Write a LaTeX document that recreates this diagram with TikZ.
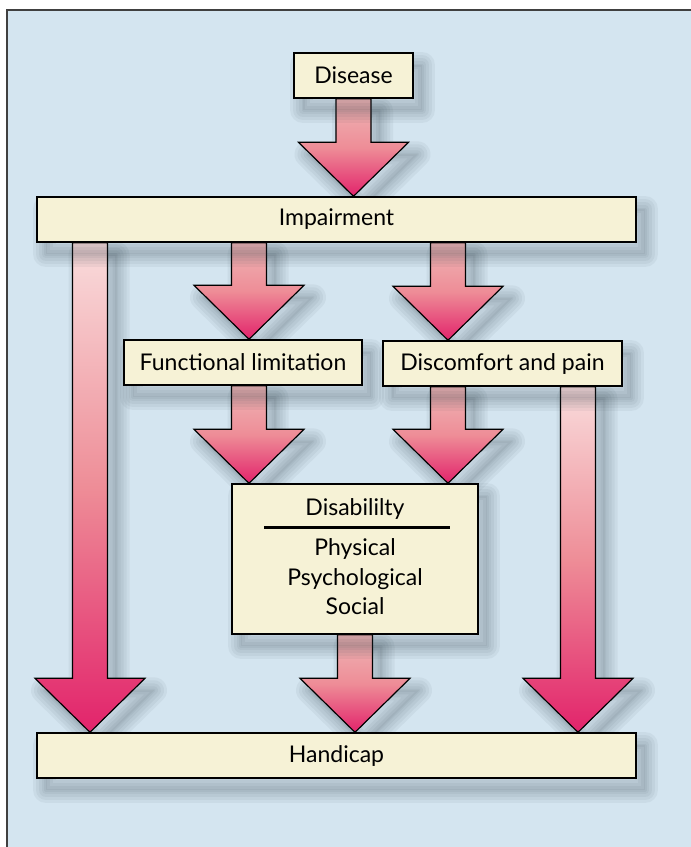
\documentclass[tikz,border=0pt]{standalone}
\usepackage{fontspec}
\setmainfont{Lato}
\usetikzlibrary{calc}

\definecolor{paneblue}{HTML}{D4E5F0}
\definecolor{boxcream}{HTML}{F6F2D6}
\definecolor{pinklight}{HTML}{F9DCDC}
\definecolor{pinksoft}{HTML}{EFB6B6}
\definecolor{pinkmid}{HTML}{EE8D97}
\definecolor{arrowred}{HTML}{E2236B}
\definecolor{shadowgray}{HTML}{2A3A44}

\pgfdeclarelayer{back}
\pgfdeclarelayer{arrows}
\pgfsetlayers{back,arrows,main}

% block arrow: style, top of shaft, tip
\newcommand{\blockarrow}[3]{%
  \draw[#1] let \p1 = (#2), \p2 = (#3) in
    (\x2-8.75bp,\y1) -- (\x2-8.75bp,\y2+27bp) -- (\x2-27.5bp,\y2+27bp) -- (\x2,\y2)
    -- (\x2+27.5bp,\y2+27bp) -- (\x2+8.75bp,\y2+27bp) -- (\x2+8.75bp,\y1) -- cycle;}

\begin{document}
\begin{tikzpicture}[x=0.5bp, y=-0.5bp,
    shadowstep/.style={preaction={draw=shadowgray, line width=#1, line join=round,
        opacity=0.055, transform canvas={shift={(4.5bp,-6bp)}}}},
    softshadow/.style={
      preaction={fill=shadowgray, opacity=0.06, transform canvas={shift={(4.5bp,-6bp)}}},
      shadowstep=13bp, shadowstep=10bp, shadowstep=7bp, shadowstep=4bp, shadowstep=1.5bp},
    box/.style={softshadow, draw, line width=0.7pt, fill=boxcream, inner sep=0pt,
      minimum height=22.5bp, font=\fontsize{11.5bp}{13bp}\selectfont},
    label/.style={font=\fontsize{11.5bp}{14.75bp}\selectfont, inner sep=0pt, align=center},
    flow/.style={softshadow, draw, line width=0.6pt, top color=pinksoft,
      bottom color=arrowred, middle color=pinkmid},
    longflow/.style={flow, top color=pinklight, bottom color=arrowred,
      middle color=pinkmid}]

  \useasboundingbox (0,0) rectangle (691,847);
  \begin{pgfonlayer}{back}
    \fill[paneblue] (7,10) rectangle (691,847);
    \draw[line width=0.7pt, black!75] (7,847) -- (7,10) -- (691,10);
  \end{pgfonlayer}

  % boxes
  \node[box, minimum width=59.5bp] (dis) at (353.5,75.5) {Disease};
  \node[box, minimum width=299.5bp] (imp) at (336.5,219.5) {Impairment};
  \node[box, minimum width=119bp] (fl) at (243,362.5) {Functional limitation};
  \node[box, minimum width=119.5bp] (dp) at (502.5,363.5) {Discomfort and pain};
  \node[box, minimum width=123bp, minimum height=75bp] (dsb) at (355,559) {};
  \node[box, minimum width=299.5bp] (hc) at (336.5,755.5) {Handicap};

  \node[label] (dsbt) at (355,509) {Disabililty};
  \node[label] (dsbl) at (355,577) {Physical\\Psychological\\Social};
  \draw[line width=1.3bp] ($(dsb.north)+(-91,44)$) -- ($(dsb.north)+(95,44)$);

  % arrow columns
  \coordinate (c1) at (90,0);
  \coordinate (c2) at (249,0);
  \coordinate (c4) at (448,0);
  \coordinate (c5) at (578,0);

  \begin{pgfonlayer}{arrows}
    \blockarrow{flow}{dis.south}{dis.south |- imp.north}
    \blockarrow{flow}{imp.south -| c2}{fl.north -| c2}
    \blockarrow{flow}{imp.south -| c4}{dp.north -| c4}
    \blockarrow{flow}{fl.south -| c2}{dsb.north -| c2}
    \blockarrow{flow}{dp.south -| c4}{dsb.north -| c4}
    \blockarrow{flow}{dsb.south}{dsb.south |- hc.north}
    \blockarrow{longflow}{imp.south -| c1}{hc.north -| c1}
    \blockarrow{longflow}{dp.south -| c5}{hc.north -| c5}
  \end{pgfonlayer}
\end{tikzpicture}
\end{document}
